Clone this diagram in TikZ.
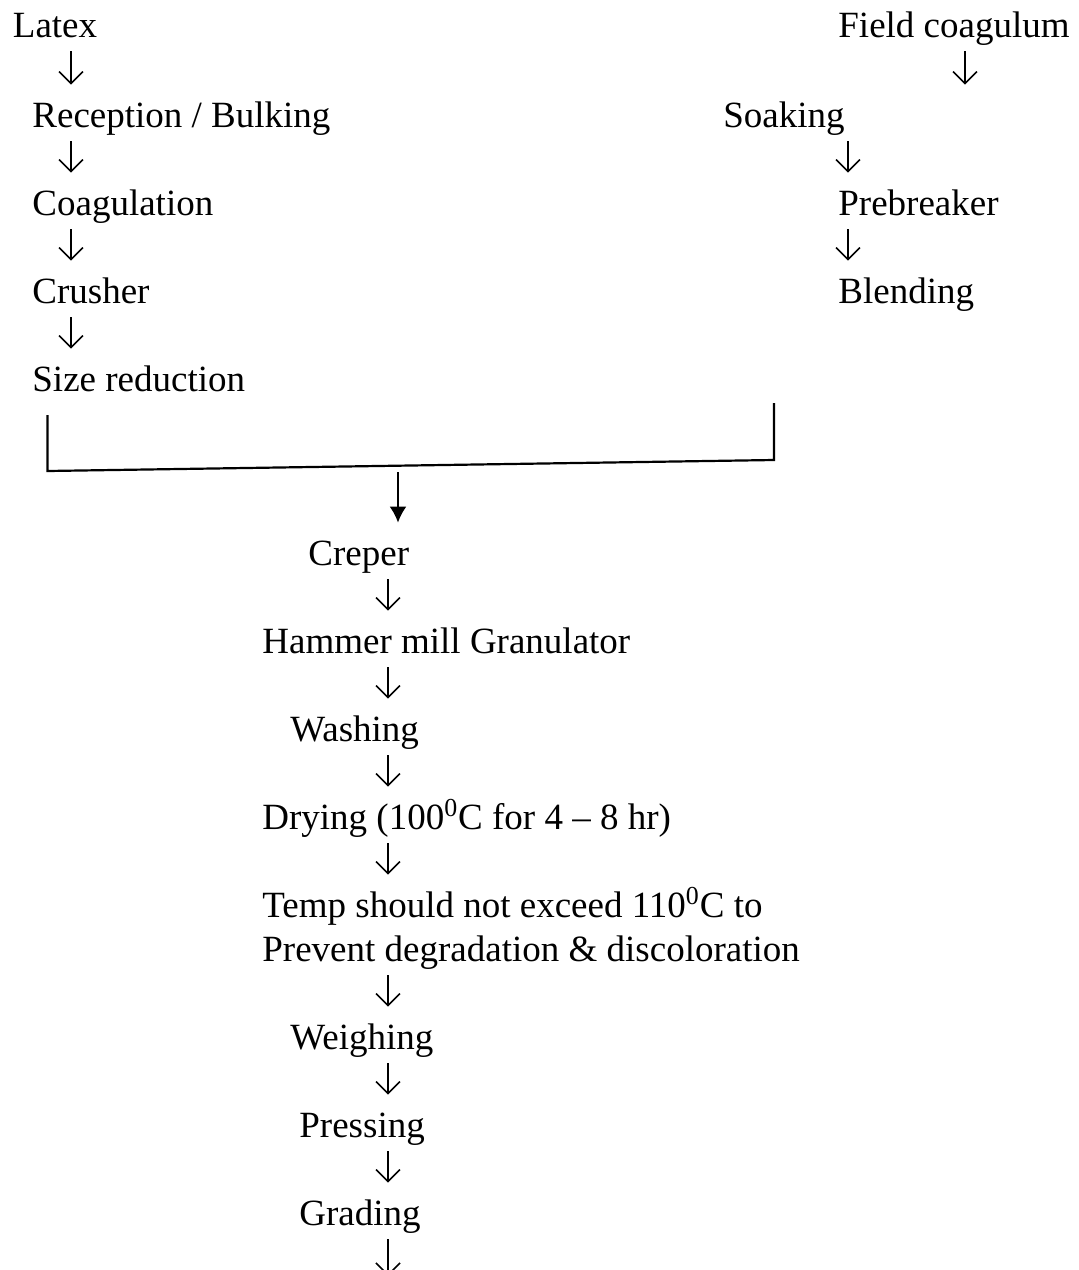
\documentclass[tikz,border=0pt]{standalone}
\usepackage{fontspec}
\setmainfont{Liberation Serif}
\usetikzlibrary{arrows.meta}
\tikzset{
  stage/.style={
    anchor = base west,
    inner sep = 0pt,
    text height = 21pt,
    text depth = 7pt,
    font = \fontsize{18.5}{22}\selectfont
  },
  flow/.style={
    line width = 0.75pt,
    -{Straight Barb[length=6pt,width=12pt]}
  },
  merge/.style={
    line width = 1.1pt,
    line join = miter
  },
  feed/.style={
    line width = 1pt,
    -{Latex[length=8pt,width=8.5pt]}
  }
}

\begin{document}
\begin{tikzpicture}[x=0.5pt, y=-0.5pt]
   \useasboundingbox (0,0) rectangle (1079,1270);

   % latex branch
   \node[stage] (latex) at (12.5,37) {Latex};
   \node[stage] (recep) at (32,127) {Reception / Bulking};
   \node[stage] (coag) at (32,215) {Coagulation};
   \node[stage] (crush) at (32,303) {Crusher};
   \node[stage] (sizer) at (32,391) {Size reduction};

   % field coagulum branch
   \node[stage] (field) at (838,37) {Field coagulum};
   \node[stage] (soak) at (723,127) {Soaking};
   \node[stage] (prebr) at (838,215) {Prebreaker};
   \node[stage] (blend) at (838,303) {Blending};

   % common line
   \node[stage] (creper) at (308,565) {Creper};
   \node[stage] (hammer) at (262,653) {Hammer mill Granulator};
   \node[stage] (wash) at (290,741) {Washing};
   \node[stage] (dry) at (262,829) {Drying (100\textsuperscript{0}C for 4 -- 8 hr)};
   \node[stage] (temp) at (262,917) {Temp should not exceed 110\textsuperscript{0}C to};
   \node[stage] (prevent) at (262,961) {Prevent degradation \& discoloration};
   \node[stage] (weigh) at (290,1049) {Weighing};
   \node[stage] (press) at (299,1137) {Pressing};
   \node[stage] (grade) at (299,1225) {Grading};

   \coordinate (xl) at (71,0);
   \coordinate (xf) at (965,0);
   \coordinate (xs) at (848,0);
   \coordinate (xc) at (388,0);

   \draw[flow] (latex.south -| xl) -- (recep.north -| xl);
   \draw[flow] (recep.south -| xl) -- (coag.north -| xl);
   \draw[flow] (coag.south -| xl) -- (crush.north -| xl);
   \draw[flow] (crush.south -| xl) -- (sizer.north -| xl);

   \draw[flow] (field.south -| xf) -- (soak.north -| xf);
   \draw[flow] (soak.south -| xs) -- (prebr.north -| xs);
   \draw[flow] (prebr.south -| xs) -- (blend.north -| xs);

   % bracket joining both branches
   \coordinate (bl) at (47.5,415);
   \coordinate (bm) at (47.5,471);
   \coordinate (br) at (774,460);
   \coordinate (bt) at (774,403);
   \coordinate (drop) at (398,472);
   \draw[merge] (bl) -- (bm) -- (br) -- (bt);
   \draw[feed] (drop) -- (creper.north -| drop);

   \draw[flow] (creper.south -| xc) -- (hammer.north -| xc);
   \draw[flow] (hammer.south -| xc) -- (wash.north -| xc);
   \draw[flow] (wash.south -| xc) -- (dry.north -| xc);
   \draw[flow] (dry.south -| xc) -- (temp.north -| xc);
   \draw[flow] (prevent.south -| xc) -- (weigh.north -| xc);
   \draw[flow] (weigh.south -| xc) -- (press.north -| xc);
   \draw[flow] (press.south -| xc) -- (grade.north -| xc);

   \coordinate (tail) at (388,1276);
   \draw[flow] (grade.south -| xc) -- (tail);
\end{tikzpicture}
\end{document}
